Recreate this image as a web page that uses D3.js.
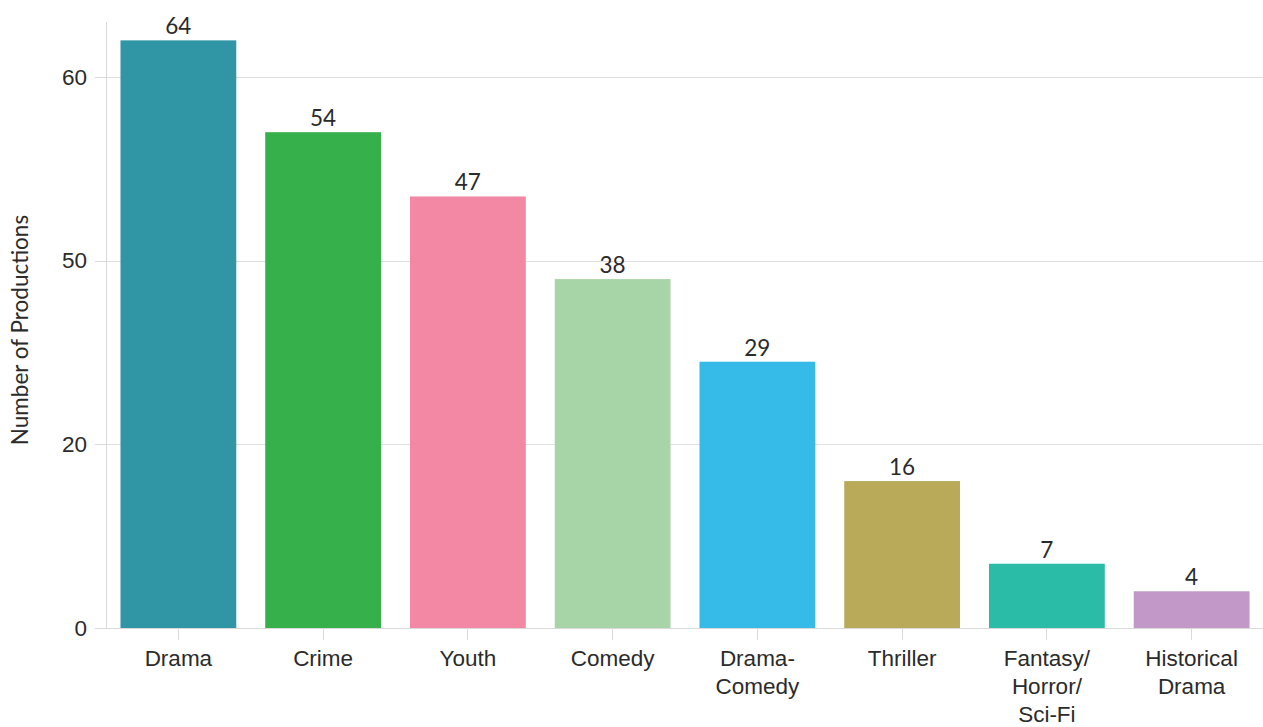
<!DOCTYPE html>
<meta charset="utf-8">
<style>
  body { margin: 0; background: #fff; }
  svg { font-family: Lato, sans-serif; }
  .grid line { stroke: #e0e0e0; stroke-width: 1px; shape-rendering: crispEdges; }
  .axis path, .axis line { stroke: #d9d9d9; shape-rendering: crispEdges; }
  .axis text { fill: #2b2b2b; font-size: 22.5px; }
  .value { fill: #2b2b2b; font-size: 22.5px; text-anchor: middle; }
</style>
<body>
<div id="chart"></div>
<script src="https://d3js.org/d3.v7.min.js"></script>
<script>
// genres and counts
var genres = ["Drama", "Crime", "Youth", "Comedy", "Drama-\nComedy", "Thriller", "Fantasy/\nHorror/\nSci-Fi", "Historical\nDrama"];
var counts = [64, 54, 47, 38, 29, 16, 7, 4];
var colors = ["#3096a5", "#36b04b", "#f288a4", "#a8d5a8", "#36bbe8", "#b8aa58", "#2bbca8", "#c298c8"];
// tick labels as printed on the y axis
var yTicks = [0, 20, 40, 60];
var yTickLabels = ["0", "20", "50", "60"];

var W = 1263, H = 727;
var m = {top: 22, right: 0, bottom: 99, left: 106};

var svg = d3.select("#chart").append("svg")
    .attr("width", W)
    .attr("height", H);

var x = d3.scaleBand()
    .domain(genres)
    .range([m.left, W + 1])
    .paddingInner(0.2)
    .paddingOuter(0.1);

var y = d3.scaleLinear()
    .domain([0, 66])
    .range([H - m.bottom, m.top]);

// gridlines
svg.append("g").attr("class", "grid")
  .selectAll("line")
  .data(yTicks)
  .enter().append("line")
    .attr("x1", m.left)
    .attr("x2", W)
    .attr("y1", function(d) { return Math.round(y(d)) + 0.5; })
    .attr("y2", function(d) { return Math.round(y(d)) + 0.5; });

// y axis
var yAxis = svg.append("g")
    .attr("class", "axis")
    .attr("transform", "translate(" + m.left + ",0)")
    .call(d3.axisLeft(y).tickValues(yTicks)
      .tickFormat(function(d, i) { return yTickLabels[i]; })
      .tickSize(11).tickPadding(8));
yAxis.select(".domain").attr("d", "M0.5," + m.top + "V" + (H - m.bottom));

// bars
svg.append("g")
  .selectAll("rect")
  .data(genres)
  .enter().append("rect")
    .attr("x", function(d) { return x(d); })
    .attr("width", x.bandwidth())
    .attr("y", function(d, i) { return y(counts[i]); })
    .attr("height", function(d, i) { return y(0) - y(counts[i]); })
    .attr("fill", function(d, i) { return colors[i]; });

// x axis
var xAxis = svg.append("g")
    .attr("class", "axis")
    .attr("transform", "translate(0," + (H - m.bottom) + ")")
    .call(d3.axisBottom(x).tickSize(12).tickSizeOuter(0).tickFormat(""));
xAxis.select(".domain").attr("d", "M" + m.left + ",0.5H" + W);

xAxis.selectAll(".tick").append("text")
    .attr("fill", "#2b2b2b")
    .attr("text-anchor", "middle")
    .attr("y", 38)
    .each(function(d) {
      var t = d3.select(this);
      d.split("\n").forEach(function(s, j) {
        t.append("tspan").attr("x", 0).attr("dy", j ? 28 : 0).text(s);
      });
    });

// value labels
svg.append("g")
  .selectAll("text")
  .data(genres)
  .enter().append("text")
    .attr("class", "value")
    .attr("x", function(d) { return x(d) + x.bandwidth() / 2; })
    .attr("y", function(d, i) { return y(counts[i]) - 6; })
    .text(function(d, i) { return counts[i]; });

// y title
svg.append("text")
    .attr("transform", "translate(28," + 330 + ") rotate(-90)")
    .attr("text-anchor", "middle")
    .attr("fill", "#2b2b2b")
    .style("font-size", "22.5px")
    .text("Number of Productions");
</script>
</body>
